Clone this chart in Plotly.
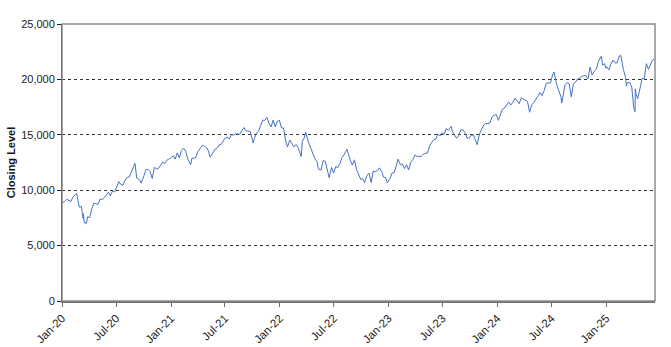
import plotly.graph_objects as go

# ---- data (approximate closing levels) ----
dates_2020 = ["2020-01-02","2020-01-10","2020-01-17","2020-01-24","2020-01-31","2020-02-07","2020-02-14","2020-02-19",
              "2020-02-28","2020-03-06","2020-03-09","2020-03-12","2020-03-13","2020-03-16","2020-03-18","2020-03-23",
              "2020-03-27","2020-04-03","2020-04-09","2020-04-17","2020-04-24","2020-05-01","2020-05-08","2020-05-15",
              "2020-05-22","2020-05-29","2020-06-05","2020-06-11","2020-06-19","2020-06-26","2020-07-02","2020-07-10",
              "2020-07-17","2020-07-24","2020-07-31","2020-08-07","2020-08-14","2020-08-21","2020-08-28","2020-09-02",
              "2020-09-08","2020-09-11","2020-09-18","2020-09-23","2020-10-02","2020-10-09","2020-10-16","2020-10-23",
              "2020-10-30","2020-11-06","2020-11-13","2020-11-20","2020-11-27","2020-12-04","2020-12-11","2020-12-18",
              "2020-12-24","2020-12-31"]
close_2020 = [8873,8979,9174,9094,8991,9401,9623,9718,
              8462,8530,7948,7436,7875,7020,7075,6994,
              7588,7528,8230,8833,8744,8718,9214,9152,
              9325,9555,9825,9492,9946,9849,10208,10767,
              10504,10460,10905,11139,11205,11702,12110,12420,
              11084,11075,10938,10632,11299,11855,11884,11667,
              11053,12067,11937,11987,12251,12528,12419,12703,
              12804,12888]

dates_2021 = ["2021-01-08","2021-01-15","2021-01-22","2021-01-29","2021-02-05","2021-02-12","2021-02-19","2021-02-26",
              "2021-03-08","2021-03-12","2021-03-19","2021-03-26","2021-04-01","2021-04-09","2021-04-16","2021-04-23",
              "2021-04-30","2021-05-07","2021-05-12","2021-05-21","2021-05-28","2021-06-04","2021-06-11","2021-06-18",
              "2021-06-25","2021-07-02","2021-07-09","2021-07-16","2021-07-23","2021-07-30","2021-08-06","2021-08-13",
              "2021-08-20","2021-08-27","2021-09-03","2021-09-10","2021-09-17","2021-09-24","2021-10-04","2021-10-08",
              "2021-10-15","2021-10-22","2021-10-29","2021-11-05","2021-11-12","2021-11-19","2021-11-26","2021-12-03",
              "2021-12-10","2021-12-17","2021-12-23","2021-12-31"]
close_2021 = [13105,12803,13367,12925,13579,13807,13532,12843,
              12299,12877,12878,12992,13480,13845,14041,13966,
              13860,13528,12976,13325,13687,13770,14069,14131,
              14397,14728,14763,14645,15041,14960,15095,15082,
              15050,15390,15653,15362,15324,15309,14255,14681,
              15146,15335,15850,16317,16303,16573,16025,15712,
              16334,15718,16167,16320]

dates_2022 = ["2022-01-07","2022-01-14","2022-01-21","2022-01-27","2022-02-04","2022-02-11","2022-02-18","2022-02-25",
              "2022-03-04","2022-03-14","2022-03-18","2022-03-25","2022-03-29","2022-04-08","2022-04-14","2022-04-22",
              "2022-04-29","2022-05-06","2022-05-11","2022-05-20","2022-05-27","2022-06-03","2022-06-10","2022-06-16",
              "2022-06-24","2022-07-01","2022-07-08","2022-07-15","2022-07-22","2022-07-29","2022-08-05","2022-08-15",
              "2022-08-19","2022-08-26","2022-09-02","2022-09-09","2022-09-16","2022-09-23","2022-09-30","2022-10-07",
              "2022-10-13","2022-10-21","2022-10-28","2022-11-04","2022-11-11","2022-11-18","2022-11-25","2022-12-02",
              "2022-12-09","2022-12-16","2022-12-23","2022-12-28"]
close_2022 = [15612,15611,14438,13900,14525,14254,13910,14124,
              13838,13047,14420,14743,15240,14289,13898,13357,
              12855,12579,11900,11835,12682,12603,11828,11128,
              12051,11544,12125,12037,12396,12947,13207,13700,
              13333,12652,12272,12739,11861,11311,10971,11042,
              10692,11352,11532,10690,11724,11677,11786,12016,
              11705,11168,11138,10680]

dates_2023 = ["2023-01-06","2023-01-13","2023-01-20","2023-01-27","2023-02-02","2023-02-10","2023-02-17","2023-02-24",
              "2023-03-03","2023-03-10","2023-03-17","2023-03-24","2023-03-31","2023-04-06","2023-04-14","2023-04-21",
              "2023-04-28","2023-05-05","2023-05-12","2023-05-19","2023-05-26","2023-06-02","2023-06-09","2023-06-16",
              "2023-06-23","2023-06-30","2023-07-07","2023-07-14","2023-07-21","2023-07-31","2023-08-04","2023-08-11",
              "2023-08-18","2023-08-25","2023-09-01","2023-09-08","2023-09-15","2023-09-22","2023-09-29","2023-10-06",
              "2023-10-13","2023-10-20","2023-10-26","2023-11-03","2023-11-10","2023-11-17","2023-11-24","2023-12-01",
              "2023-12-08","2023-12-15","2023-12-22","2023-12-29"]
close_2023 = [11040,11541,11573,12167,12803,12305,12360,11939,
              12303,11830,12520,12767,13181,13063,13080,13039,
              13246,13340,13340,13976,14298,14547,14622,15084,
              14891,15179,15037,15565,15410,15757,15274,14998,
              14695,14942,15440,15461,15203,14701,14715,14950,
              14995,14540,14110,15099,15530,15880,16025,15998,
              16085,16624,16777,16826]

dates_2024 = ["2024-01-05","2024-01-12","2024-01-19","2024-01-26","2024-02-02","2024-02-09","2024-02-16","2024-02-23",
              "2024-03-01","2024-03-08","2024-03-15","2024-03-22","2024-03-28","2024-04-05","2024-04-12","2024-04-19",
              "2024-04-26","2024-05-03","2024-05-10","2024-05-17","2024-05-24","2024-05-31","2024-06-07","2024-06-14",
              "2024-06-21","2024-06-28","2024-07-05","2024-07-10","2024-07-19","2024-07-26","2024-08-02","2024-08-05",
              "2024-08-09","2024-08-16","2024-08-23","2024-08-30","2024-09-06","2024-09-13","2024-09-20","2024-09-27",
              "2024-10-04","2024-10-11","2024-10-18","2024-10-25","2024-11-01","2024-11-08","2024-11-15","2024-11-22",
              "2024-11-29","2024-12-06","2024-12-16","2024-12-20","2024-12-27","2024-12-31"]
close_2024 = [16305,16832,17314,17421,17642,17962,17686,17937,
              18302,18019,17808,18340,18255,18149,18003,17037,
              17718,17891,18161,18546,18808,18537,19000,19660,
              19700,19683,20392,20675,19523,19023,18440,17867,
              18514,19509,19720,19575,18422,19593,19736,20042,
              20077,20272,20325,20352,20034,21117,20394,20744,
              20930,21622,22097,21289,21427,21012]

dates_2025 = ["2025-01-03","2025-01-10","2025-01-17","2025-01-24","2025-01-31","2025-02-07","2025-02-14","2025-02-19",
              "2025-02-28","2025-03-07","2025-03-10","2025-03-14","2025-03-21","2025-03-28","2025-04-04","2025-04-08",
              "2025-04-09","2025-04-11","2025-04-17","2025-04-25","2025-05-02","2025-05-09","2025-05-16","2025-05-23",
              "2025-05-30","2025-06-06","2025-06-13"]
close_2025 = [21134,20847,21379,21737,21478,21491,22114,22175,
              20884,20202,19431,19704,19754,19282,17398,17090,
              19146,18690,18258,19433,20102,20061,21428,20915,
              21340,21761,21850]

dates = dates_2020 + dates_2021 + dates_2022 + dates_2023 + dates_2024 + dates_2025
closes = close_2020 + close_2021 + close_2022 + close_2023 + close_2024 + close_2025

tick_vals = ["2020-01-01","2020-07-01","2021-01-01","2021-07-01","2022-01-01","2022-07-01",
             "2023-01-01","2023-07-01","2024-01-01","2024-07-01","2025-01-01"]
tick_text = ["Jan-20","Jul-20","Jan-21","Jul-21","Jan-22","Jul-22",
             "Jan-23","Jul-23","Jan-24","Jul-24","Jan-25"]
y_ticks = [0, 5000, 10000, 15000, 20000, 25000]

fig = go.Figure()
fig.add_trace(go.Scatter(x=dates, y=closes, mode="lines",
                         line=dict(color="#4472C4", width=1), showlegend=False))

fig.update_layout(
    width=671, height=347,
    margin=dict(l=62, r=16, t=24, b=46),
    paper_bgcolor="white", plot_bgcolor="white",
    font=dict(family="Liberation Sans, Arial, sans-serif", size=11, color="#222222"),
)
fig.update_xaxes(
    type="date", range=["2020-01-01", "2025-06-14"], automargin=False,
    tickvals=tick_vals, ticktext=tick_text, tickangle=-45,
    showgrid=False, zeroline=False,
    showline=True, linecolor="#6f6f6f", linewidth=2,
    ticks="outside", ticklen=4, tickcolor="#6f6f6f",
    tickfont=dict(size=11.5),
)
fig.update_yaxes(
    range=[0, 25000], tickvals=y_ticks, tickformat=",", automargin=False,
    showgrid=True, gridcolor="#333333", griddash="dot", gridwidth=1,
    zeroline=False,
    showline=True, linecolor="#222222", linewidth=1,
    ticks="outside", ticklen=4, tickcolor="#222222",
    tickfont=dict(size=11),
    title=dict(text="<b>Closing Level</b>", font=dict(size=11, color="#111111"), standoff=3),
)
# grey frame (top and right borders)
fig.add_shape(type="rect", xref="paper", yref="paper", x0=0, y0=0, x1=1, y1=1,
              line=dict(color="#8c8c8c", width=1.5), layer="above")

fig.write_html("out.html")
